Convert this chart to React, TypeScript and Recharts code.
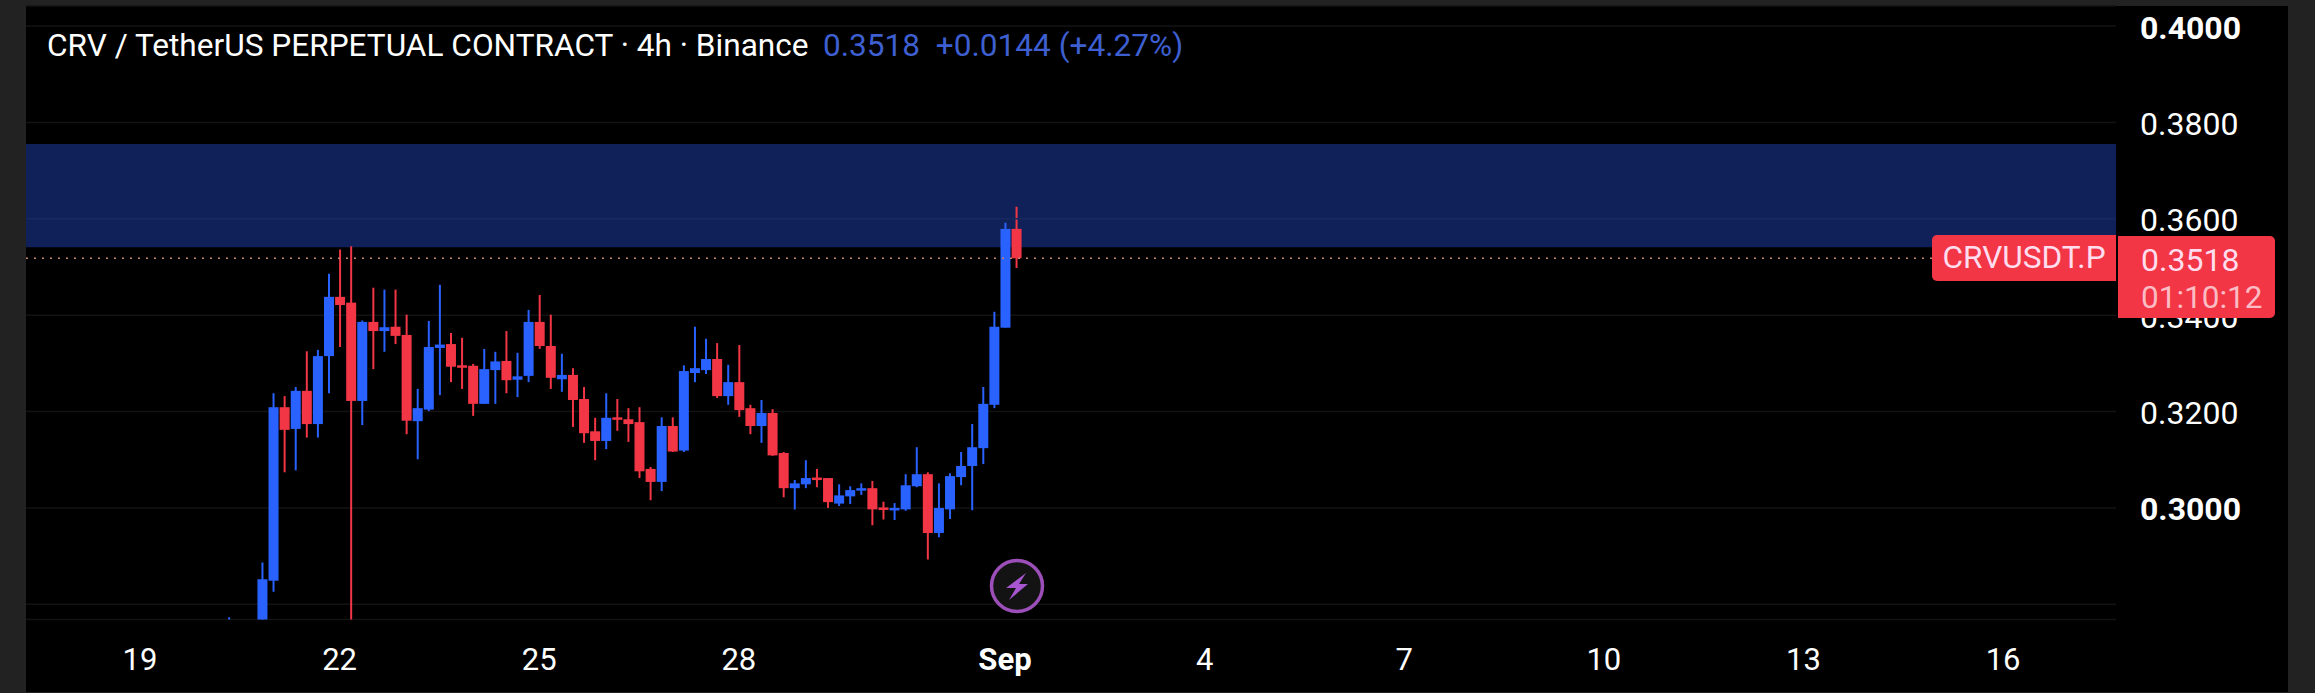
import React from "react";
import { ComposedChart, Bar, XAxis, YAxis, CartesianGrid, ReferenceArea, ReferenceLine } from "recharts";

const firstSlot = -3;
const opens = [.2760,.2720,.2720,.2750,.2849,.3209,.3164,.3243,.3174,.3315,.3438,.3426,.3222,.3386,.3367,.3376,.3359,.3180,.3204,.3332,.3340,.3296,.3295,.3216,.3286,.3305,.3266,.3274,.3386,.3336,.3267,.3276,.3226,.3159,.3139,.3188,.3184,.3178,.3081,.3054,.3170,.3119,.3280,.3286,.3309,.3232,.3261,.3207,.3170,.3197,.3114,.3041,.3049,.3063,.3062,.3009,.3024,.3037,.3041,.3001,.2995,.2997,.3045,.3070,.2948,.2997,.3064,.3087,.3124,.3214,.3374,.3579];
const closes = [.2760,.2722,.2725,.2852,.3209,.3162,.3243,.3174,.3315,.3438,.3421,.3222,.3386,.3367,.3375,.3357,.3181,.3207,.3334,.3339,.3293,.3293,.3216,.3288,.3304,.3265,.3273,.3386,.3336,.3270,.3276,.3224,.3155,.3139,.3187,.3184,.3174,.3076,.3054,.3170,.3117,.3284,.3290,.3309,.3232,.3261,.3203,.3170,.3197,.3109,.3041,.3051,.3062,.3060,.3012,.3026,.3037,.3041,.2997,.2997,.3000,.3047,.3070,.2948,.3000,.3066,.3087,.3126,.3216,.3376,.3579,.3518];
const highs = [.2773,.2725,.2730,.2887,.3238,.3232,.3251,.3325,.3328,.3486,.3536,.3543,.3389,.3457,.3453,.3453,.3401,.3247,.3388,.3463,.3363,.3353,.3299,.3330,.3324,.3367,.3322,.3411,.3442,.3401,.3320,.3290,.3251,.3187,.3238,.3226,.3207,.3209,.3085,.3188,.3188,.3296,.3376,.3351,.3342,.3297,.3338,.3214,.3224,.3205,.3116,.3058,.3099,.3081,.3062,.3049,.3045,.3051,.3056,.3013,.3010,.3070,.3126,.3074,.3051,.3072,.3116,.3174,.3251,.3407,.3592,.3625];
const lows = [.2755,.2715,.2715,.2745,.2826,.3074,.3078,.3146,.3146,.3238,.3334,.2740,.3172,.3288,.3324,.3340,.3153,.3101,.3201,.3234,.3261,.3247,.3191,.3216,.3216,.3238,.3230,.3261,.3330,.3247,.3241,.3168,.3135,.3099,.3122,.3160,.3137,.3062,.3016,.3035,.3116,.3116,.3261,.3278,.3228,.3214,.3189,.3153,.3135,.3108,.3022,.2997,.3041,.3043,.3000,.3004,.3008,.3027,.2964,.2976,.2975,.2994,.3043,.2893,.2939,.2977,.3047,.2995,.3091,.3207,.3374,.3498];

const priceTicks = [.28, .30, .32, .34, .36, .38, .40];
const boldPrices = [.30, .40];
const hiddenPrices = [.28];
const timeSlots = [-11, 7, 25, 43, 67, 85, 103, 121, 139, 157];
const timeLabels = ["19", "22", "25", "28", "Sep", "4", "7", "10", "13", "16"];
const boldTimes = ["Sep"];
const zoneLow = .3541;
const zoneHigh = .3755;
const zoneGrid = .36;
const lastPrice = .3518;

const rows = opens.map((o, i) => ({ slot: firstSlot + i, o, c: closes[i], h: highs[i], l: lows[i] }));

const UP = "#2962ff";
const DOWN = "#f23645";
const FONT = "Roboto, sans-serif";

function Candle(props: any) {
  const { x, y, width, height, payload } = props;
  const { o, c, h, l } = payload;
  const perUnit = height / (h - l);
  const top = y + (h - Math.max(o, c)) * perUnit;
  const bodyH = Math.max(Math.abs(o - c) * perUnit, 2.5);
  const color = c >= o ? UP : DOWN;
  const mid = x + width / 2;
  return (
    <g>
      <line x1={mid} x2={mid} y1={y} y2={y + height} stroke={color} strokeWidth={2} />
      <rect x={x} y={top} width={width} height={bodyH} fill={color} />
    </g>
  );
}

function PriceTick(props: any) {
  const { x, y, payload } = props;
  const v = payload.value;
  if (hiddenPrices.some((p) => Math.abs(p - v) < 1e-6)) return <g />;
  const bold = boldPrices.some((p) => Math.abs(p - v) < 1e-6);
  return (
    <text x={x + 16} y={y + 1} dy="0.36em" fill="#fff" fontFamily={FONT} fontSize={32} fontWeight={bold ? 700 : 400} textAnchor="start">
      {v.toFixed(4)}
    </text>
  );
}

function TimeTick(props: any) {
  const { x, y, payload } = props;
  const label = timeLabels[timeSlots.indexOf(payload.value)];
  return (
    <text x={x} y={y + 31} dy="0.36em" fill="#fff" fontFamily={FONT} fontSize={31} fontWeight={boldTimes.includes(label) ? 700 : 400} textAnchor="middle">
      {label}
    </text>
  );
}

const abs = (left: number, top: number, extra: React.CSSProperties = {}): React.CSSProperties => ({
  position: "absolute",
  left,
  top,
  fontFamily: FONT,
  whiteSpace: "nowrap",
  ...extra,
});

export default function App() {
  return (
    <div style={{ position: "absolute", left: 0, top: 0, width: 2315, height: 693, background: "#222", overflow: "hidden" }}>
      <div style={{ position: "absolute", left: 26, top: 6, width: 2262, height: 686, background: "#000" }} />
      <div style={{ position: "absolute", left: 0, top: 0 }}>
        <ComposedChart width={2315} height={693} data={rows} margin={{ top: 6, right: 0, bottom: 0, left: 26 }}>
          <CartesianGrid vertical={false} stroke="#131313" strokeWidth={1.5} />
          <XAxis
            dataKey="slot"
            type="number"
            domain={[-21.28, 167.18]}
            allowDataOverflow
            ticks={timeSlots}
            interval={0}
            axisLine={false}
            tickLine={false}
            height={73.5}
            tick={<TimeTick />}
          />
          <YAxis
            orientation="right"
            type="number"
            domain={[.27685, .40415]}
            allowDataOverflow
            ticks={priceTicks}
            interval={0}
            axisLine={false}
            tickLine={false}
            width={199}
            tick={<PriceTick />}
          />
          <ReferenceArea y1={zoneLow} y2={zoneHigh} fill="#10215a" fillOpacity={1} stroke="none" />
          <ReferenceLine y={zoneGrid} stroke="#18295f" strokeWidth={1.5} />
          <ReferenceLine y={lastPrice} stroke="#c9866f" strokeDasharray="2 6" strokeWidth={1.5} />
          <Bar
            dataKey={(r: any) => [r.l, r.h]}
            barSize={10}
            isAnimationActive={false}
            shape={(p: any) => <Candle {...p} />}
          />
        </ComposedChart>
      </div>

      <div style={abs(47, 27, { color: "#fff", fontSize: 31.6, lineHeight: "38px" })}>CRV / TetherUS PERPETUAL CONTRACT · 4h · Binance</div>
      <div style={abs(823, 27, { color: "#3d5fd0", fontSize: 31.6, lineHeight: "38px" })}>0.3518&nbsp;&nbsp;+0.0144 (+4.27%)</div>

      <div style={abs(1932, 235, { width: 184, height: 46, background: DOWN, borderRadius: "5px 0 0 5px", color: "#fde", fontSize: 31.6, lineHeight: "46px", textAlign: "center" })}>CRVUSDT.P</div>
      <div style={{ position: "absolute", left: 2118, top: 236, width: 157, height: 82, background: DOWN, borderRadius: "0 5px 5px 0" }} />
      <div style={abs(2141, 241, { color: "#fde", fontSize: 32, lineHeight: "38px" })}>0.3518</div>
      <div style={abs(2141, 279, { color: "#fbbcc4", fontSize: 31.5, lineHeight: "38px" })}>01:10:12</div>

      <svg style={{ position: "absolute", left: 985, top: 554 }} width={64} height={64} viewBox="0 0 64 64">
        <circle cx={32} cy={32} r={25.5} fill="#131313" stroke="#9c4fb8" strokeWidth={3.5} />
        <path d="M41 19 L21 34 L31 34 L24 46 L43 30 L34 30 Z" fill="#a855d0" />
      </svg>
    </div>
  );
}
